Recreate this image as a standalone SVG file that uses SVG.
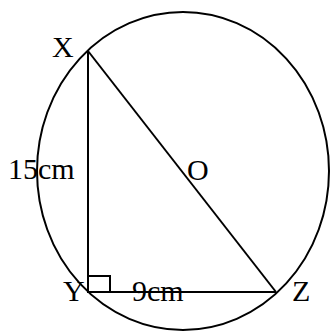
<svg xmlns="http://www.w3.org/2000/svg" width="330" height="331" viewBox="0 0 330 331">
<style>
.ln{fill:none;stroke:#000;stroke-width:2}
.t{font-family:"Liberation Serif","Times New Roman",serif;font-size:30px;fill:#000}
</style>
<rect width="330" height="331" fill="#fff"/>
<g id="circle"><ellipse class="ln" cx="183" cy="171" rx="146" ry="159"/></g>
<g id="connectors">
<line class="ln" x1="88" y1="51" x2="88" y2="292"/>
<line class="ln" x1="87" y1="292" x2="276" y2="292"/>
<line class="ln" x1="88" y1="51" x2="276" y2="292"/>
<rect class="ln" x="88" y="276" width="22" height="16"/>
</g>
<g id="X"><text class="t" x="52" y="57">X</text></g>
<g id="Y"><text class="t" x="63" y="301">Y</text></g>
<g id="Z"><text class="t" x="292" y="301">Z</text></g>
<g id="O"><text class="t" x="187" y="180">O</text></g>
<g id="label15"><text class="t" x="8" y="179">15cm</text></g>
<g id="label9"><text class="t" x="132" y="301">9cm</text></g>
</svg>
